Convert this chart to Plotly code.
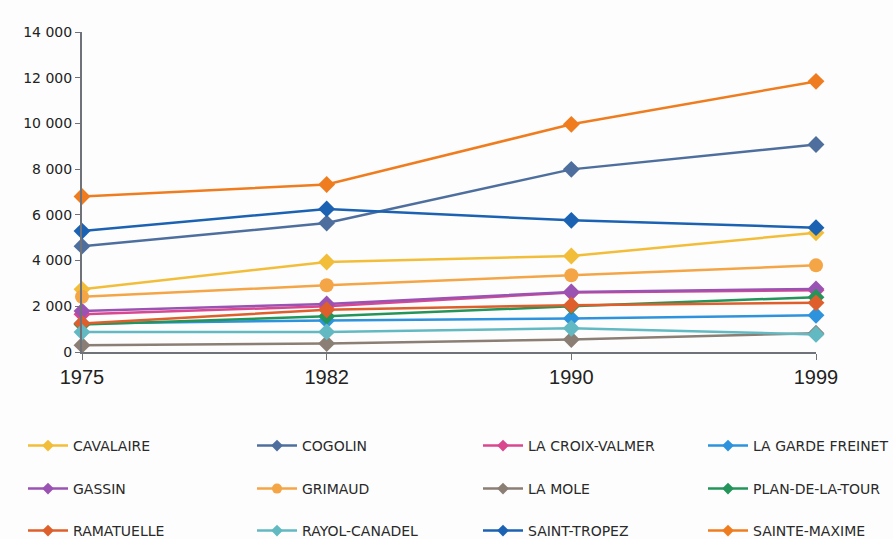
import plotly.graph_objects as go

years = ["1975", "1982", "1990", "1999"]

cavalaire = [2740, 3940, 4200, 5220]
cogolin = [4630, 5640, 7990, 9080]
la_croix_valmer = [1650, 2000, 2600, 2700]
la_garde_freinet = [1250, 1380, 1470, 1610]
gassin = [1790, 2100, 2630, 2760]
grimaud = [2420, 2920, 3360, 3790]
la_mole = [300, 370, 550, 820]
plan_de_la_tour = [1200, 1560, 2000, 2400]
ramatuelle = [1250, 1850, 2050, 2150]
rayol_canadel = [870, 880, 1040, 770]
saint_tropez = [5290, 6260, 5760, 5440]
sainte_maxime = [6800, 7330, 9960, 11840]

series = [
    ("CAVALAIRE", cavalaire, "#F2BE3A", "diamond"),
    ("COGOLIN", cogolin, "#4E6F9E", "diamond"),
    ("LA CROIX-VALMER", la_croix_valmer, "#D9478F", "diamond"),
    ("LA GARDE FREINET", la_garde_freinet, "#2D93DD", "diamond"),
    ("GASSIN", gassin, "#9A53B3", "diamond"),
    ("GRIMAUD", grimaud, "#F4A546", "circle"),
    ("LA MOLE", la_mole, "#8B7E74", "diamond"),
    ("PLAN-DE-LA-TOUR", plan_de_la_tour, "#23955A", "diamond"),
    ("RAMATUELLE", ramatuelle, "#DE5F2B", "diamond"),
    ("RAYOL-CANADEL", rayol_canadel, "#62B9C2", "diamond"),
    ("SAINT-TROPEZ", saint_tropez, "#1B62B3", "diamond"),
    ("SAINTE-MAXIME", sainte_maxime, "#EF7D1F", "diamond"),
]

# legend grid: 4 columns x 3 rows, one small legend box per entry
col_x = [23, 252, 478, 703]
row_y = [446, 489, 531]

fig = go.Figure()
legends = {}
for i, (name, vals, color, sym) in enumerate(series):
    lid = "legend" if i == 0 else f"legend{i + 1}"
    # data line
    fig.add_trace(go.Scatter(
        x=years, y=vals, name=name, mode="lines+markers",
        line=dict(color=color, width=2.5),
        marker=dict(symbol=sym, size=13 if sym == "diamond" else 14, color=color),
        cliponaxis=False, showlegend=False, legendgroup=name,
    ))
    # legend key with a smaller marker
    fig.add_trace(go.Scatter(
        x=[None], y=[None], name=name, mode="lines+markers",
        line=dict(color=color, width=2.5),
        marker=dict(symbol=sym, size=9 if sym == "diamond" else 10, color=color),
        legend=lid, legendgroup=name,
    ))
    legends[lid] = dict(
        orientation="h", xref="container", yref="container",
        xanchor="left", yanchor="middle",
        x=col_x[i % 4] / 893, y=1 - row_y[i // 4] / 539,
        font=dict(family="DejaVu Sans", size=14, color="#2A2A2A"),
        bgcolor="rgba(0,0,0,0)", itemwidth=40,
    )

fig.update_layout(
    width=893, height=539,
    margin=dict(l=82, r=77, t=32, b=187),
    paper_bgcolor="#FDFDFD", plot_bgcolor="#FDFDFD",
    separators=", ",
    showlegend=True,
    **legends,
    xaxis=dict(
        type="category", range=[0, 3],
        showgrid=False, showline=True, linecolor="#6F7379", linewidth=2,
        ticks="outside", ticklen=6, tickcolor="#6F7379", tickwidth=1,
        tickfont=dict(family="Liberation Sans", size=20, color="#222222"),
        zeroline=False,
    ),
    yaxis=dict(
        range=[0, 14000], dtick=2000, tickformat=",d",
        showgrid=False, showline=True, linecolor="#6F7379", linewidth=2,
        ticks="outside", ticklen=5, tickcolor="#6F7379", tickwidth=1,
        tickfont=dict(family="DejaVu Sans", size=14, color="#222222"),
        zeroline=False,
    ),
)

fig.write_html("out.html")
